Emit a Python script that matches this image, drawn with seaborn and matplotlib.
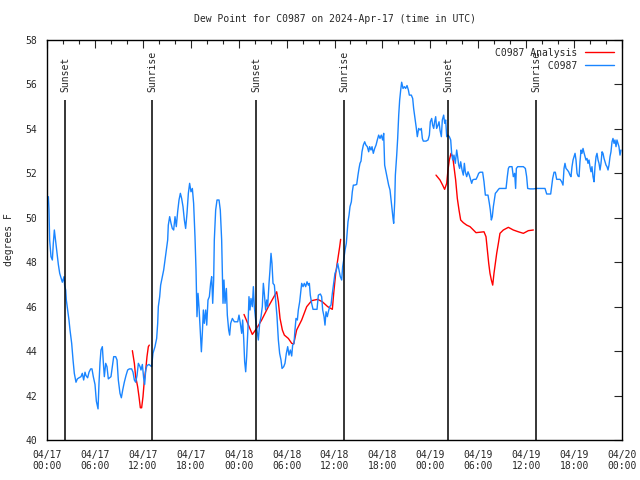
import pandas as pd
import numpy as np
import matplotlib
matplotlib.use("Agg")
import matplotlib.pyplot as plt
import matplotlib.dates as mdates
import seaborn as sns

# Observed dew point C0987 (hours since 2024-04-17 00:00 UTC, deg F)
blue_hours = [
    0.17, 0.25, 0.33, 0.5, 0.67, 0.79, 0.92, 1.0, 1.13, 1.29, 1.42, 1.59, 1.75, 1.92, 2.13, 2.21,
    2.34, 2.42, 2.59, 2.75, 2.88, 3.09, 3.26, 3.42, 3.63, 3.80, 4.01, 4.26, 4.42, 4.59, 4.76, 4.88,
    5.09, 5.26, 5.47, 5.63, 5.80, 6.01, 6.18, 6.39, 6.51, 6.64, 6.76, 6.93, 7.05, 7.18, 7.35, 7.51,
    7.68, 7.85, 8.01, 8.18, 8.35, 8.60, 8.77, 8.93, 9.14, 9.31, 9.48, 9.68, 9.89, 10.10, 10.31, 10.60,
    10.77, 10.94, 11.10, 11.27, 11.44, 11.65, 11.77, 11.94, 12.10, 12.23, 12.36, 12.52, 12.77,
    13.1, 13.27, 13.52, 13.73, 13.86, 13.94, 14.11, 14.23, 14.44, 14.61, 14.78, 14.94, 15.11, 15.19,
    15.36, 15.53, 15.69, 15.86, 16.03, 16.19, 16.36, 16.53, 16.7, 16.86, 17.03, 17.2, 17.36, 17.53,
    17.7, 17.86, 18.03, 18.2, 18.36, 18.53, 18.66, 18.78, 18.91, 19.03, 19.2, 19.33, 19.45, 19.58,
    19.7, 19.87, 20.0, 20.16, 20.33, 20.49, 20.62, 20.75, 20.87, 20.95, 21.12, 21.29, 21.54, 21.7,
    21.87, 22.04, 22.16, 22.29, 22.46, 22.58, 22.75, 22.87, 23.0, 23.21, 23.46, 23.88, 24.04, 24.21,
    24.38, 24.5, 24.63, 24.75, 24.88, 25.0,
    25.17, 25.29, 25.42, 25.54, 25.71, 25.84, 25.96, 26.13, 26.30, 26.46, 26.63, 26.80, 26.96, 27.09,
    27.21, 27.38, 27.51, 27.63, 27.80, 27.92, 28.05, 28.17, 28.30, 28.47, 28.63, 28.80, 28.97, 29.13,
    29.30, 29.43, 29.64, 29.80, 29.97, 30.14, 30.30, 30.47, 30.64, 30.76, 30.93, 31.05, 31.18, 31.35,
    31.47, 31.64, 31.76, 31.89, 32.06, 32.22, 32.39, 32.56, 32.72, 32.85, 32.97, 33.14, 33.31, 33.81,
    33.98, 34.23, 34.39, 34.52, 34.69, 34.81, 34.94, 35.10, 35.23, 35.40, 35.56, 35.73, 35.90, 36.06,
    36.23, 36.40, 36.56, 36.73, 36.90, 37.02, 37.15, 37.32, 37.48,
    37.69, 37.82, 37.94, 38.11, 38.23, 38.36, 38.53, 38.78, 38.94, 39.07, 39.19, 39.32, 39.44, 39.61,
    39.78, 39.94, 40.11, 40.28, 40.40, 40.57, 40.70, 40.86, 41.03, 41.20, 41.36, 41.53, 41.70, 41.86,
    42.03, 42.16, 42.28, 42.45, 42.62, 42.78, 42.95, 43.08, 43.20, 43.33, 43.41, 43.54, 43.62, 43.79,
    43.91, 44.04, 44.16, 44.29, 44.41, 44.58, 44.75, 44.91, 45.08, 45.25, 45.37, 45.62, 45.79, 45.91,
    46.08, 46.25, 46.37, 46.54, 46.71, 46.87, 47.00, 47.12, 47.46, 47.71, 47.88, 48.00, 48.17, 48.29,
    48.42, 48.54, 48.67, 48.79, 48.96, 49.09, 49.21, 49.38, 49.50, 49.67, 49.80, 49.92, 50.05, 50.21,
    50.38, 50.55, 50.67, 50.80, 50.96, 51.13, 51.30, 51.42, 51.55, 51.67, 51.80, 51.97, 52.13, 52.26,
    52.38, 52.55, 52.72, 52.88, 53.05, 53.18, 53.30, 53.47, 53.72, 53.89, 54.05, 54.22, 54.55, 54.72,
    54.89, 55.22, 55.39, 55.51, 55.64, 55.76, 55.89, 56.01, 56.14, 56.31, 56.47, 56.64, 57.48, 57.64,
    57.77, 57.89, 58.23, 58.39, 58.56, 58.68, 58.77, 58.94, 59.65, 59.90, 60.06, 60.19, 60.48,
    60.90, 61.32, 62.36, 62.57, 63.07, 63.19, 63.32, 63.49, 63.65, 63.82, 64.24, 64.45, 64.61, 64.74,
    64.86, 64.99, 65.16, 65.32, 65.49, 65.61, 65.74, 65.87, 65.99, 66.12, 66.24, 66.37, 66.49, 66.62,
    66.74, 66.87, 66.99, 67.12, 67.24, 67.37, 67.49, 67.62, 67.74, 67.87, 67.99, 68.12, 68.24, 68.37,
    68.50, 68.62, 68.75, 68.87, 69.00, 69.12, 69.25, 69.37, 69.50, 69.62, 69.75, 69.87, 70.00, 70.12,
    70.25, 70.37, 70.50, 70.62, 70.75, 70.87, 71.00, 71.12, 71.25, 71.37, 71.50, 71.62, 71.75, 71.87,
]
blue_temp = [
    50.95, 50.35, 49.0, 48.25, 48.1, 48.85, 49.45, 49.2, 48.8, 48.3, 47.9, 47.5, 47.3, 47.1, 47.35, 46.95,
    46.75, 46.3, 45.85, 45.4, 44.95, 44.35, 43.6, 43.0, 42.6, 42.75, 42.8, 42.85, 43.0, 42.7, 43.05, 42.9,
    42.8, 43.05, 43.2, 43.2, 42.85, 42.5, 41.75, 41.4, 42.55, 43.5, 44.05, 44.2, 43.5, 42.85, 43.45, 43.3,
    42.75, 42.8, 42.85, 43.3, 43.75, 43.75, 43.6, 42.7, 42.1, 41.9, 42.25, 42.6, 42.9, 43.15, 43.2, 43.2,
    43.05, 42.7, 42.6, 42.9, 43.45, 43.3, 43.15, 43.4, 42.8, 42.5, 43.15, 43.35, 43.4,
    43.3, 43.9, 44.2, 44.57, 45.25, 46.0, 46.45, 46.97, 47.35, 47.65, 48.1, 48.55, 49.0, 49.67,
    50.05, 49.75, 49.52, 49.45, 50.05, 49.6, 50.27, 50.8, 51.1, 50.87, 50.5, 49.9, 49.52, 50.2,
    51.1, 51.55, 51.17, 51.32, 50.65, 49.15, 47.65, 45.55, 46.6, 46.0, 44.8, 43.97, 44.8, 45.85,
    45.25, 45.85, 45.17, 46.3, 46.45, 47.05, 47.35, 46.15, 47.2, 49.0, 50.35, 50.8, 50.8, 50.35,
    49.0, 46.15, 47.2, 46.15, 46.82, 45.62, 44.95, 44.72, 45.25, 45.47, 45.32, 45.32, 45.62, 45.25,
    44.8, 45.4, 44.57, 43.52, 43.07, 43.75,
    45.1, 46.45, 45.85, 46.37, 46.0, 46.9, 46.0, 45.4, 44.95, 44.5, 45.25, 45.55, 46.0, 47.05,
    46.6, 45.85, 46.3, 46.0, 47.05, 47.65, 48.4, 47.95, 47.05, 46.97, 46.3, 45.55, 44.5, 43.9,
    43.6, 43.22, 43.3, 43.45, 43.9, 44.2, 43.82, 44.05, 43.78, 44.27, 44.35, 44.95, 45.47, 45.4,
    45.85, 46.22, 46.6, 47.05, 46.9, 47.05, 46.9, 47.12, 46.97, 47.05, 46.52, 46.15, 45.88, 45.88,
    46.52, 46.57, 46.45, 45.85, 45.55, 45.17, 45.77, 45.55, 45.77, 46.0, 46.07, 46.6, 47.05, 47.5,
    47.65, 47.95, 47.65, 47.35, 47.2, 47.8, 48.1, 48.55, 48.85,
    49.82, 50.12, 50.5, 50.72, 51.17, 51.47, 51.47, 51.5, 51.92, 52.22, 52.45, 52.55, 52.97, 53.27,
    53.42, 53.27, 53.2, 52.97, 53.2, 53.05, 53.2, 52.9, 53.12, 53.27, 53.5, 53.72, 53.57, 53.72,
    53.5, 53.8, 52.37, 52.07, 51.77, 51.47, 51.25, 50.8, 50.42, 49.97, 49.75, 50.72, 51.92, 52.82,
    53.57, 54.62, 55.3, 55.75, 56.1, 55.82, 55.9, 55.82, 55.95, 55.75, 55.52, 55.52, 55.37, 54.92,
    54.47, 54.02, 53.65, 54.02, 53.95, 54.02, 53.57, 53.45, 53.45, 53.5, 53.72, 54.32, 54.47, 54.17,
    54.02, 54.32, 54.55, 54.02, 54.17, 54.32, 53.95, 53.65, 54.4, 54.62, 54.25, 54.4, 53.65, 53.72,
    53.65, 53.5, 52.9, 52.6, 52.82, 52.45, 53.05, 52.75, 52.37, 52.22, 52.52, 52.15, 51.92, 52.45,
    52.07, 51.85, 52.07, 51.92, 51.7, 51.55, 51.7, 51.73, 51.73, 51.85, 52.0, 52.05, 52.05, 51.62,
    51.02, 51.02, 50.65, 50.35, 49.9, 50.05, 50.5, 50.8, 51.1, 51.17, 51.25, 51.32, 51.32, 51.85,
    52.22, 52.3, 52.3, 51.85, 52.0, 51.32, 52.22, 52.3, 52.3, 52.22, 51.85, 51.32, 51.3,
    51.3, 51.32, 51.32, 51.07, 51.07, 51.4, 51.77, 52.05, 52.05, 51.73, 51.73, 51.62, 51.47, 52.22,
    52.45, 52.22, 52.15, 52.07, 51.92, 51.85, 52.3, 52.6, 52.75, 52.9, 52.6, 52.0, 51.88, 51.85,
    52.52, 53.05, 52.9, 53.12, 52.93, 52.75, 52.6, 52.67, 52.45, 52.6, 52.3, 52.07, 52.3, 51.85,
    51.62, 52.3, 52.75, 52.9, 52.6, 52.45, 52.15, 52.45, 52.97, 52.9, 52.67, 52.52, 52.37, 52.3,
    52.15, 52.37, 52.75, 52.97, 53.42, 53.57, 53.35, 53.5, 53.2, 53.5, 53.35, 53.2, 52.82, 53.05,
]

# Analysis, three separate runs (hours since start, deg F)
red_hours_1 = [10.69, 10.94, 11.10, 11.35, 11.52, 11.69, 11.85, 12.02, 12.19, 12.36, 12.52, 12.69, 12.81]
red_temp_1 = [44.02, 43.45, 42.85, 42.4, 41.95, 41.45, 41.45, 41.95, 42.7, 43.15, 43.75, 44.2, 44.27]
red_hours_2 = [
    24.67, 25.71, 26.25, 26.88, 27.72, 28.76, 28.97, 29.18, 29.47, 29.72, 30.22, 30.64, 30.89, 31.26,
    31.89, 32.52, 33.14, 33.89, 34.48, 35.15, 35.73, 35.90, 36.15, 36.40, 36.65, 36.77,
]
red_temp_2 = [
    45.65, 44.75, 45.02, 45.4, 46.0, 46.67, 46.22, 45.47, 44.95, 44.72, 44.57, 44.35, 44.32, 44.95,
    45.4, 46.0, 46.27, 46.33, 46.22, 46.0, 45.88, 46.6, 47.5, 48.1, 48.7, 49.03,
]
red_hours_3 = [
    48.71, 49.21, 49.54, 49.79, 50.05, 50.21, 50.38, 50.59, 50.80, 50.96, 51.17, 51.38, 51.59, 51.80,
    52.13, 52.55, 52.97, 53.39, 53.72, 54.22, 54.72, 54.97, 55.14, 55.31, 55.47, 55.64, 55.81, 55.97,
    56.14, 56.31, 56.52, 56.72, 57.14, 57.77, 58.39, 59.02, 59.65, 60.27, 60.90,
]
red_temp_3 = [
    51.92, 51.7, 51.47, 51.28, 51.55, 52.15, 52.6, 52.9, 52.75, 52.3, 51.7, 50.87, 50.35, 49.9,
    49.78, 49.67, 49.6, 49.45, 49.33, 49.35, 49.37, 49.15, 48.55, 47.95, 47.5, 47.2, 46.97, 47.5,
    47.95, 48.4, 48.85, 49.3, 49.45, 49.57, 49.45, 49.37, 49.3, 49.42, 49.45,
]

sun_hours = [2.30, 13.19, 26.23, 37.25, 50.25, 61.27]
sun_labels = ["Sunset", "Sunrise", "Sunset", "Sunrise", "Sunset", "Sunrise"]

start = pd.Timestamp("2024-04-17 00:00")
df_obs = pd.DataFrame({"time": start + pd.to_timedelta(blue_hours, unit="h"), "temp": blue_temp})
runs = []
for i, (h, v) in enumerate([(red_hours_1, red_temp_1), (red_hours_2, red_temp_2), (red_hours_3, red_temp_3)]):
    runs.append(pd.DataFrame({"time": start + pd.to_timedelta(h, unit="h"), "temp": v, "run": i}))
df_ana = pd.concat(runs, ignore_index=True)
sun_times = start + pd.to_timedelta(sun_hours, unit="h")

sns.set_style("white")
plt.rcParams["font.family"] = ["DejaVu Sans Mono"]
plt.rcParams["font.size"] = 7

fig = plt.figure(figsize=(6.4, 4.8), dpi=100)
ax = fig.add_axes([47 / 640, 40 / 480, 575 / 640, 400 / 480])

sns.lineplot(data=df_ana, x="time", y="temp", units="run", estimator=None,
             color="#ff0000", lw=1.0, ax=ax, label="C0987 Analysis")
sns.lineplot(data=df_obs, x="time", y="temp", estimator=None,
             color="#1a85ff", lw=1.0, ax=ax, label="         C0987")

# sunrise / sunset markers
ax.vlines(sun_times, 40, 55.3, color="black", lw=1.1)
for t, lab in zip(sun_times, sun_labels):
    ax.text(t, 55.65, lab, rotation=90, ha="center", va="bottom", fontsize=7)

ax.set_xlim(start, start + pd.Timedelta(hours=72))
ax.set_ylim(40, 58)
ax.set_yticks(np.arange(40, 59, 2))
ax.xaxis.set_major_locator(mdates.HourLocator(byhour=[0, 6, 12, 18]))
ax.xaxis.set_minor_locator(mdates.HourLocator(byhour=range(0, 24, 2)))
ax.xaxis.set_major_formatter(mdates.DateFormatter("%m/%d\n%H:%M"))
ax.tick_params(which="major", direction="in", length=6, width=0.8, top=True, right=True, pad=7, labelsize=7)
ax.tick_params(which="minor", direction="in", length=3, width=0.8, top=True, right=False)
for s in ax.spines.values():
    s.set_color("black")
    s.set_linewidth(1.0)

ax.set_xlabel("")
ax.set_ylabel("degrees F", fontsize=7, labelpad=8)
ax.set_title("Dew Point for C0987 on 2024-Apr-17 (time in UTC)", fontsize=7, pad=13)

# one legend entry per series
handles, labels = ax.get_legend_handles_labels()
uniq = {}
for h, l in zip(handles, labels):
    uniq.setdefault(l, h)
leg = ax.legend(list(uniq.values()), list(uniq.keys()), loc="upper right", frameon=False,
                markerfirst=False, handlelength=3.0, fontsize=7, borderaxespad=0.6,
                borderpad=0.2, labelspacing=0.3, handletextpad=0.8)

fig.savefig("out.png", dpi=100)
